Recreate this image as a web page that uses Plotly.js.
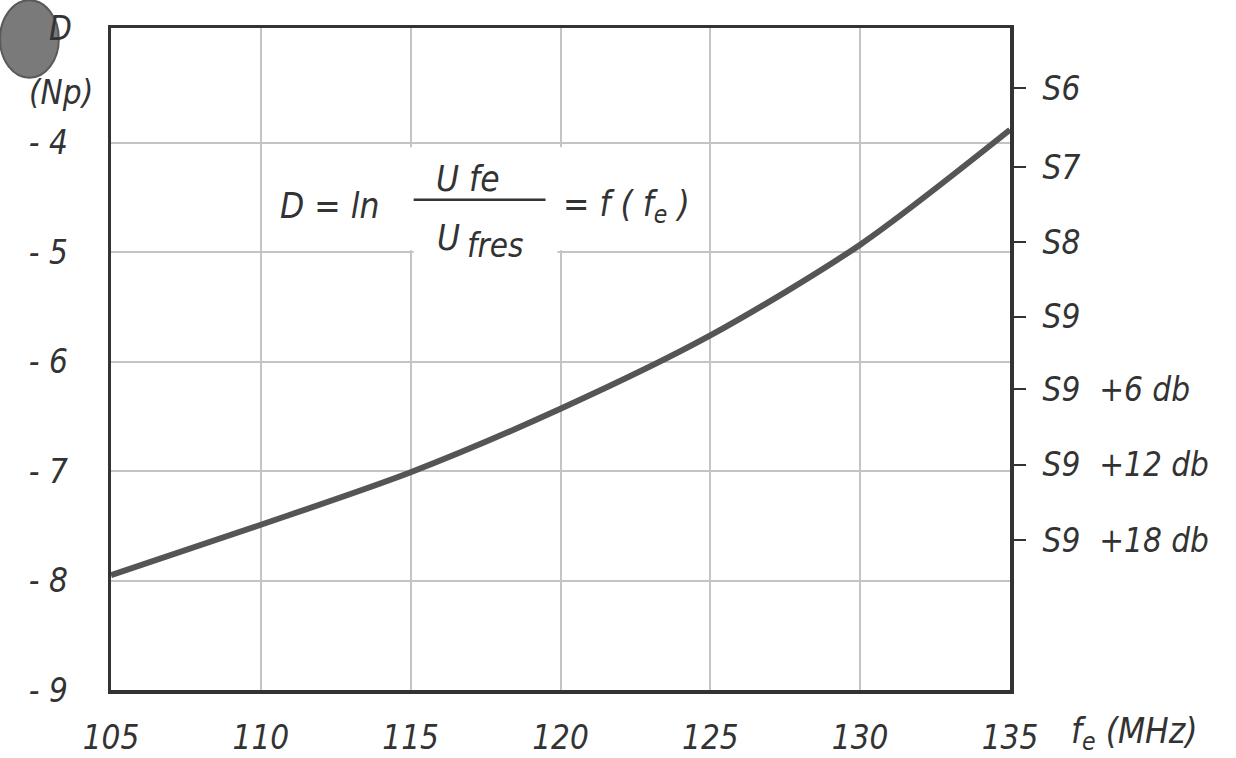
<!DOCTYPE html>
<html>
<head>
<meta charset="utf-8">
<script src="https://cdn.plot.ly/plotly-3.0.1.min.js"></script>
<style>html,body{margin:0;padding:0;background:#fff;}#chart{width:1236px;height:758px;}</style>
</head>
<body>
<div id="chart"></div>
<script>
// Data
const freqMHz = [105, 110, 115, 120, 125, 130, 135];
const dampingNp = [-7.95, -7.49, -7.01, -6.43, -5.76, -4.93, -3.88];

const xTickVals = [105, 110, 115, 120, 125, 130, 135];
const xTickText = ["105", "110", "115", "120", "125", "130", "135"];
const yTickVals = [-9, -8, -7, -6, -5, -4];
const yTickText = ["- 9", "- 8", "- 7", "- 6", "- 5", "- 4"];
const sMeterVals = [-3.50, -4.22, -4.91, -5.59, -6.25, -6.94, -7.63];
const sMeterText = ["S6", "S7", "S8", "S9", "S9\u00a0 +6\u00a0db", "S9\u00a0 +12\u00a0db", "S9\u00a0 +18\u00a0db"];

const FONT = "DejaVu Sans Condensed, DejaVu Sans, sans-serif";
const INK = "#333333";
const tf = {family: FONT, size: 33, color: INK, style: "italic"};
const ff = {family: FONT, size: 35, color: INK, style: "italic"};

const traces = [
  {x: freqMHz, y: dampingNp, type: "scatter", mode: "lines",
   line: {color: "#555555", width: 6, shape: "spline", smoothing: 0.8},
   hoverinfo: "skip", showlegend: false},
  {x: [freqMHz[0]], y: [dampingNp[0]], yaxis: "y2", type: "scatter", mode: "markers",
   marker: {opacity: 0}, hoverinfo: "skip", showlegend: false}
];

const layout = {
  width: 1236, height: 758,
  margin: {l: 111, r: 226, t: 28, b: 68},
  paper_bgcolor: "#ffffff", plot_bgcolor: "#ffffff",
  showlegend: false,
  xaxis: {range: [105, 135], tickvals: xTickVals, ticktext: xTickText,
    showgrid: true, gridcolor: "#c4c4c4", gridwidth: 2,
    zeroline: false, showline: true, linecolor: INK, linewidth: 3.5, mirror: true,
    ticks: "", ticklabelstandoff: 16, tickfont: tf, fixedrange: true},
  yaxis: {range: [-9, -2.95], tickvals: yTickVals, ticktext: yTickText,
    showgrid: true, gridcolor: "#c4c4c4", gridwidth: 2,
    zeroline: false, showline: true, linecolor: INK, linewidth: 3.5, mirror: true,
    ticks: "", ticklabelstandoff: 33, tickfont: tf, fixedrange: true},
  yaxis2: {range: [-9, -2.95], overlaying: "y", side: "right",
    tickvals: sMeterVals, ticktext: sMeterText, showgrid: false, zeroline: false,
    showline: false, ticks: "outside", ticklen: 15, tickwidth: 2, tickcolor: INK,
    ticklabelstandoff: 10, tickfont: tf, fixedrange: true},
  shapes: [
    {type: "rect", xref: "x", yref: "y", x0: 110.12, x1: 124.9, y0: -4.04, y1: -4.98,
     fillcolor: "#ffffff", line: {width: 0}, layer: "between"},
    {type: "rect", xref: "x", yref: "y", x0: 115.1, x1: 119.9, y0: -4.9, y1: -5.06,
     fillcolor: "#ffffff", line: {width: 0}, layer: "between"},
    {type: "line", xref: "x", yref: "y", x0: 115.1, x1: 119.5, y0: -4.52, y1: -4.52,
     line: {color: INK, width: 2.5}, layer: "above"},
    {type: "circle", xref: "paper", yref: "paper",
     x0: -0.1235, x1: -0.058, y0: 0.925, y1: 1.042,
     fillcolor: "#7a7a7a", line: {color: "#5a5a5a", width: 2}, layer: "above"}
  ],
  annotations: [
    {xref: "x", yref: "y", x: 112.3, y: -4.58, text: "D = ln", showarrow: false, font: ff},
    {xref: "x", yref: "y", x: 116.9, y: -4.33, text: "U fe", showarrow: false, font: ff},
    {xref: "x", yref: "y", x: 116.25, y: -4.87, text: "U", showarrow: false, font: ff},
    {xref: "x", yref: "y", x: 117.8, y: -4.94, text: "fres", showarrow: false,
     font: {family: FONT, size: 33, color: INK, style: "italic"}},
    {xref: "x", yref: "y", x: 122.2, y: -4.58, text: "= f ( f<sub>e</sub> )", showarrow: false, font: ff},
    {xref: "paper", yref: "paper", x: -0.056, y: 1.0, xanchor: "center", yanchor: "middle",
     text: "D", showarrow: false, font: tf},
    {xref: "paper", yref: "paper", x: -0.018, y: 0.903, xanchor: "right", yanchor: "middle",
     text: "(Np)", showarrow: false, font: tf},
    {xref: "paper", yref: "paper", x: 1.066, y: -0.066, xanchor: "left", yanchor: "middle",
     text: "f<sub>e</sub> (MHz)", showarrow: false,
     font: {family: FONT, size: 35, color: INK, style: "italic"}}
  ]
};

Plotly.newPlot("chart", traces, layout, {displayModeBar: false, staticPlot: true});
</script>
</body>
</html>
